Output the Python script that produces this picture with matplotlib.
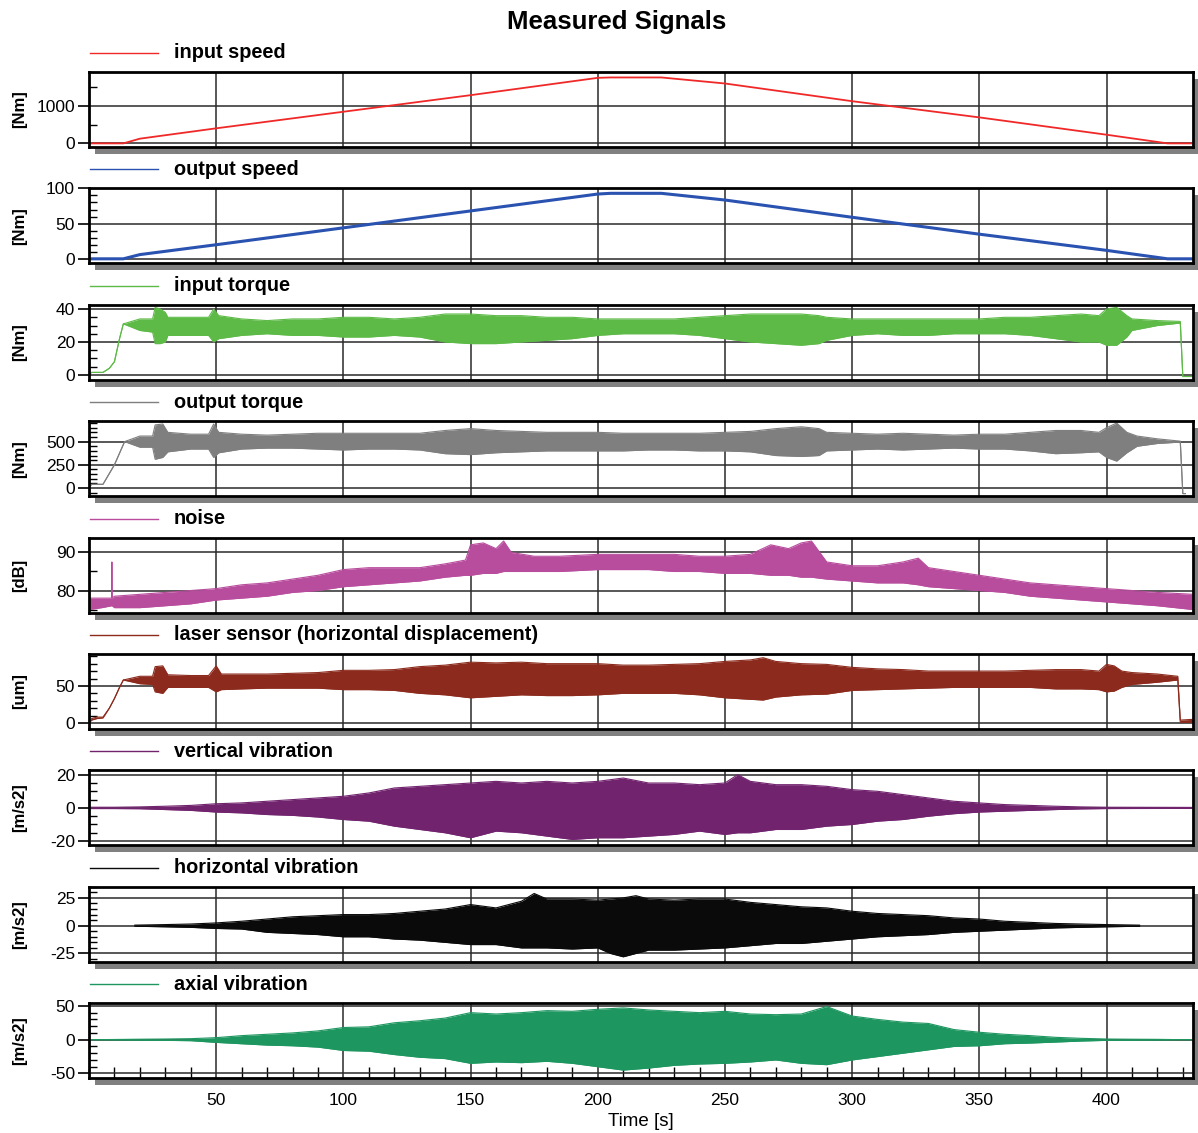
import numpy as np
import matplotlib
matplotlib.use("Agg")
import matplotlib.pyplot as plt
from matplotlib.patches import Rectangle
from matplotlib.lines import Line2D
from matplotlib.ticker import MultipleLocator, FixedLocator

plt.rcParams['font.family'] = ['Liberation Sans', 'DejaVu Sans']
plt.rcParams['axes.unicode_minus'] = False

# ---- data ----
# speeds (clean lines)
t_speed = [0, 13.5, 20, 50, 100, 150, 200, 205, 225, 250, 300, 350, 400, 424, 434]
input_speed = [0, 0, 125, 400, 840, 1280, 1740, 1750, 1750, 1590, 1120, 690, 230, 0, 0]
output_speed = [0, 0, 6, 20, 44, 68, 92, 93, 93, 83.5, 59, 35, 12, 0, 0]

# noisy signals: time, upper and lower envelope
t_in_torque = [0, 1, 5.5, 8, 10, 12, 13.5, 20, 25, 26, 28, 30, 31, 40, 47, 49, 51, 60, 70, 80,
               90, 100, 110, 120, 130, 140, 150, 160, 170, 180, 190, 200, 210, 220, 230, 240,
               250, 260, 270, 280, 287, 290, 300, 310, 320, 330, 340, 350, 360, 370, 380, 390,
               397, 400, 404, 408, 410, 420, 429, 430, 434]
in_torque_hi = [0, 1.5, 1.5, 4, 8, 22, 31, 34, 34, 41, 40, 38, 35, 35, 35, 40, 36, 34, 33, 34,
                34, 35, 35, 34, 35, 37, 37, 36, 36, 35, 35, 34, 34, 34, 34, 35,
                36, 37, 37, 37, 36, 35, 34, 34, 34, 34, 34, 34, 35, 35, 36, 37,
                36, 40, 41, 36, 34, 33, 32.5, -1, -1]
in_torque_lo = [0, 1.5, 1.5, 4, 8, 22, 31, 27, 26, 19, 19, 20, 24, 24, 24, 20, 22, 24, 25, 24,
                24, 23, 23, 24, 23, 20, 19, 19, 20, 21, 22, 24, 25, 25, 25, 24,
                22, 20, 19, 18, 19, 21, 24, 25, 24, 24, 25, 25, 25, 24, 22, 20,
                20, 18, 18, 23, 27, 30, 31.5, -1, -1]

t_out_torque = [0, 1, 5.5, 10, 14, 20, 25, 26, 29, 31, 40, 47, 49, 51, 60, 70, 80, 90, 100,
                110, 120, 130, 140, 150, 160, 170, 180, 190, 200, 210, 220, 230, 240, 250,
                260, 270, 280, 287, 290, 300, 310, 320, 330, 340, 350, 360, 370, 380, 390,
                397, 400, 404, 408, 412, 420, 429, 430, 431]
out_torque_hi = [0, 40, 40, 250, 500, 560, 560, 680, 690, 600, 580, 580, 690, 600, 580, 570,
                 580, 590, 590, 590, 590, 590, 620, 640, 620, 610, 600, 600, 600, 590, 590,
                 590, 590, 600, 610, 640, 660, 640, 600, 590, 580, 590, 580, 570, 580, 580,
                 600, 620, 620, 600, 650, 700, 600, 560, 530, 505, -60, -60]
out_torque_lo = [0, 40, 40, 250, 500, 440, 440, 310, 330, 390, 420, 420, 330, 380, 420, 430,
                 430, 420, 410, 420, 420, 410, 370, 360, 380, 390, 400, 400, 400, 400, 410,
                 410, 400, 400, 390, 350, 340, 350, 400, 410, 420, 410, 420, 430, 420, 420,
                 400, 370, 380, 390, 330, 290, 380, 450, 480, 495, -60, -60]

t_noise = [0, 5, 8.9, 9, 9.1, 10, 20, 30, 40, 50, 60, 70, 80, 90, 100, 110, 120, 130, 140,
           148, 150, 155, 160, 163, 166, 175, 185, 200, 210, 220, 230, 240, 250, 260, 268,
           275, 280, 284, 290, 300, 310, 320, 326, 330, 340, 350, 360, 370, 380, 390, 400,
           410, 420, 434]
noise_hi = [78, 78, 78, 87.5, 78, 78.5, 79, 79.5, 80, 80.5, 81.5, 82, 83, 84, 85.5, 86, 86,
            86, 87, 88, 92, 92.5, 91, 93, 90, 89, 89, 89.5, 89.5, 89.5, 89.5, 89, 89, 89.5,
            92, 91, 92.5, 93, 87.5, 86.5, 86.5, 87.5, 88.5, 86, 85, 84, 83, 82, 81.5, 81,
            80.5, 80, 79.5, 79]
noise_lo = [75, 75.5, 76, 76, 76, 75.5, 75.5, 76, 76.5, 77.5, 78, 78.5, 79.5, 80, 81, 81.5,
            82, 82.5, 83.5, 84, 84, 84.5, 84.5, 85, 85, 85, 85, 85.5, 85.5, 85.5, 85, 85,
            84.5, 84.5, 84, 84, 83.5, 83.5, 83, 82.5, 82, 82, 81.5, 81, 80.5, 80, 79.5,
            78.5, 78, 77.5, 77, 76.5, 76, 75]

t_laser = [0, 1, 3, 5.5, 8, 10, 12, 13.5, 20, 25, 26, 29, 31, 40, 47, 50, 52, 60, 70, 80,
           90, 100, 110, 120, 130, 140, 150, 160, 170, 180, 190, 200, 210, 220, 230, 240,
           250, 260, 265, 270, 280, 290, 300, 310, 320, 330, 340, 350, 360, 370, 380, 390,
           397, 400, 403, 406, 410, 420, 428, 429, 434]
laser_hi = [0, 6, 8, 8, 20, 33, 48, 58, 63, 63, 76, 77, 65, 64, 64, 77, 66, 66, 66, 67,
            68, 71, 71, 72, 76, 78, 82, 81, 82, 80, 80, 80, 78, 78, 79, 80,
            83, 85, 88, 83, 80, 79, 75, 73, 72, 70, 70, 70, 70, 71, 72, 72,
            70, 79, 77, 70, 68, 66, 63, 4, 5]
laser_lo = [0, 4, 6, 7, 20, 33, 48, 58, 53, 52, 42, 40, 48, 48, 48, 42, 45, 46, 47, 47,
            47, 45, 45, 44, 40, 38, 34, 36, 38, 37, 37, 38, 40, 40, 40, 38,
            34, 32, 31, 35, 38, 39, 44, 45, 46, 47, 48, 48, 48, 48, 46, 46,
            45, 42, 43, 48, 52, 55, 58, 1, 1]

t_vert = [0, 10, 20, 30, 40, 50, 60, 70, 80, 90, 100, 110, 120, 130, 140, 150, 160, 170,
          180, 190, 200, 210, 220, 230, 240, 250, 255, 260, 270, 280, 290, 300, 310, 320,
          330, 340, 350, 360, 370, 380, 390, 400, 434]
vert_hi = [0.4, 0.4, 0.6, 1, 1.5, 2.5, 3, 4, 5, 6, 7, 9, 12, 13, 14, 15, 16, 15, 16, 15, 16,
           18, 15, 15, 14, 15, 20, 16, 14, 14, 13, 11, 10, 8, 6, 4, 3, 2, 1.5, 1, 0.6, 0.4, 0.3]
vert_lo = [-0.4, -0.4, -0.5, -1, -1.5, -2.5, -3, -4, -4.5, -5.5, -7, -8, -11, -13, -15, -18,
           -14, -15, -17, -19, -18, -18, -17, -16, -14, -16, -15, -15, -13, -13, -11, -10,
           -8, -7, -5, -3.5, -2.5, -2, -1.5, -1, -0.6, -0.4, -0.3]

t_horiz = [18, 30, 40, 50, 60, 70, 80, 90, 100, 110, 120, 130, 140, 150, 160, 170, 175, 180,
           190, 200, 205, 210, 215, 220, 230, 240, 250, 260, 270, 280, 290, 300, 310, 320,
           330, 340, 350, 360, 370, 380, 390, 400, 413]
horiz_hi = [0.5, 1, 1.5, 2.5, 4, 6, 8, 9, 10, 10, 11, 13, 15, 19, 16, 22, 29, 24, 24, 23, 24,
            25, 27, 24, 23, 24, 24, 21, 19, 17, 16, 13, 11, 10, 9, 7, 6, 4, 3, 2, 1.5, 1, 0.5]
horiz_lo = [-0.5, -1, -1.5, -2.5, -3, -6, -7, -8, -10, -10, -12, -13, -15, -17, -17, -20,
            -20, -20, -21, -20, -25, -28, -25, -22, -22, -21, -20, -18, -16, -16, -14, -12,
            -10, -9, -8, -6, -5, -4, -3, -2, -1.5, -1, -0.5]

t_axial = [0, 10, 20, 30, 40, 50, 60, 70, 80, 90, 100, 110, 120, 130, 140, 150, 160, 170,
           180, 190, 200, 210, 220, 230, 240, 250, 260, 270, 280, 290, 300, 310, 320, 330,
           340, 350, 360, 370, 380, 390, 400, 410, 420, 430, 434]
axial_hi = [0, 0.3, 0.7, 1, 1.5, 3, 6, 8, 10, 13, 18, 19, 25, 28, 32, 40, 38, 40, 43, 42, 45,
            47, 44, 42, 40, 42, 38, 37, 38, 49, 35, 30, 26, 24, 15, 11, 8, 6, 3.5, 2, 1,
            0.7, 0.5, 0, 0]
axial_lo = [0, -0.3, -0.7, -1, -1.5, -4, -6, -8, -9, -11, -16, -17, -22, -26, -28, -35, -33,
            -34, -32, -35, -40, -45, -42, -38, -36, -35, -33, -30, -35, -37, -30, -25, -20,
            -15, -10, -9, -6, -5, -3.5, -2, -1, -0.7, -0.5, 0, 0]

names = ['input speed', 'output speed', 'input torque', 'output torque', 'noise',
         'laser sensor (horizontal displacement)', 'vertical vibration',
         'horizontal vibration', 'axial vibration']
units = ['[Nm]', '[Nm]', '[Nm]', '[Nm]', '[dB]', '[um]', '[m/s2]', '[m/s2]', '[m/s2]']
colors = ['#f02828', '#2a52b0', '#5dba47', '#7f7f7f', '#b84c9d', '#8c2b1d', '#71236e',
          '#0a0a0a', '#1e9660']
time_ticks = [50, 100, 150, 200, 250, 300, 350, 400]

# axis settings per panel: ylim, major ticks, minor step
ylims = [(-96, 1895), (-6.5, 100), (-3, 42.6), (-88, 720), (74.2, 93.9), (-8, 93),
         (-22.6, 22.6), (-32.5, 35), (-57, 54)]
majors = [[0, 1000], [0, 50, 100], [0, 20, 40], [0, 250, 500], [80, 90], [0, 50],
          [-20, 0, 20], [-25, 0, 25], [-50, 0, 50]]
minor_steps = [500, 10, 5, 50, 5, 10, 5, 5, 10]

bands = {
    2: (t_in_torque, in_torque_hi, in_torque_lo),
    3: (t_out_torque, out_torque_hi, out_torque_lo),
    4: (t_noise, noise_hi, noise_lo),
    5: (t_laser, laser_hi, laser_lo),
    6: (t_vert, vert_hi, vert_lo),
    7: (t_horiz, horiz_hi, horiz_lo),
    8: (t_axial, axial_hi, axial_lo),
}

# ---- layout (pixels) ----
W, H = 1198, 1133
fig = plt.figure(figsize=(W / 100, H / 100), dpi=100)
left_px, right_px = 89, 1193
top0, step, height = 72, 116.4, 75

fig.text(617 / W, 1 - 22 / H, 'Measured Signals', ha='center', va='center',
         fontsize=18.5, fontweight='bold')

for i in range(9):
    top = top0 + step * i
    rect = [left_px / W, 1 - (top + height) / H, (right_px - left_px) / W, height / H]
    # drop shadow
    fig.patches.append(Rectangle((rect[0] + 6 / W, rect[1] - 7 / H), rect[2], rect[3],
                                 transform=fig.transFigure, facecolor='#808080',
                                 edgecolor='none', zorder=-1))
    ax = fig.add_axes(rect)

    # legend-like label above panel
    ly = 1 - (top - 19) / H
    fig.lines.append(Line2D([90 / W, 158 / W], [ly, ly], transform=fig.transFigure,
                            color=colors[i], lw=1))
    fig.text(174 / W, ly, names[i], ha='left', va='center', fontsize=14.3,
             fontweight='bold')

    if i == 0:
        ax.plot(t_speed, input_speed, color=colors[i], lw=1.3)
    elif i == 1:
        ax.plot(t_speed, output_speed, color=colors[i], lw=2.2)
    else:
        t, hi, lo = bands[i]
        ax.fill_between(t, lo, hi, color=colors[i], lw=0)
        ax.plot(t, hi, color=colors[i], lw=0.8)
        ax.plot(t, lo, color=colors[i], lw=0.8)

    ax.set_xlim(0, 434)
    ax.set_ylim(*ylims[i])
    ax.yaxis.set_major_locator(FixedLocator(majors[i]))
    ax.yaxis.set_minor_locator(MultipleLocator(minor_steps[i]))
    ax.xaxis.set_major_locator(FixedLocator(time_ticks))
    ax.xaxis.set_minor_locator(MultipleLocator(10))
    ax.grid(True, which='major', color='#2a2a2a', lw=1.1)
    ax.set_axisbelow(True)
    for sp in ax.spines.values():
        sp.set_linewidth(2)
        sp.set_color('black')
    ax.tick_params(axis='y', which='major', direction='out', length=8, width=1.2,
                   labelsize=12.5, pad=2)
    ax.tick_params(axis='y', which='minor', direction='in', length=6, width=1)
    ax.set_ylabel(units[i], fontsize=12, fontweight='bold')
    ax.yaxis.set_label_coords(-(left_px - 27) / (right_px - left_px), 0.5)
    if i < 8:
        ax.tick_params(axis='x', which='both', length=0, labelbottom=False)
    else:
        ax.tick_params(axis='x', which='major', length=0, labelsize=12.5, pad=11)
        ax.tick_params(axis='x', which='minor', direction='in', length=8, width=1)
        ax.set_xlabel('Time [s]', fontsize=13.5, labelpad=3)

fig.savefig('out.png', dpi=100)
